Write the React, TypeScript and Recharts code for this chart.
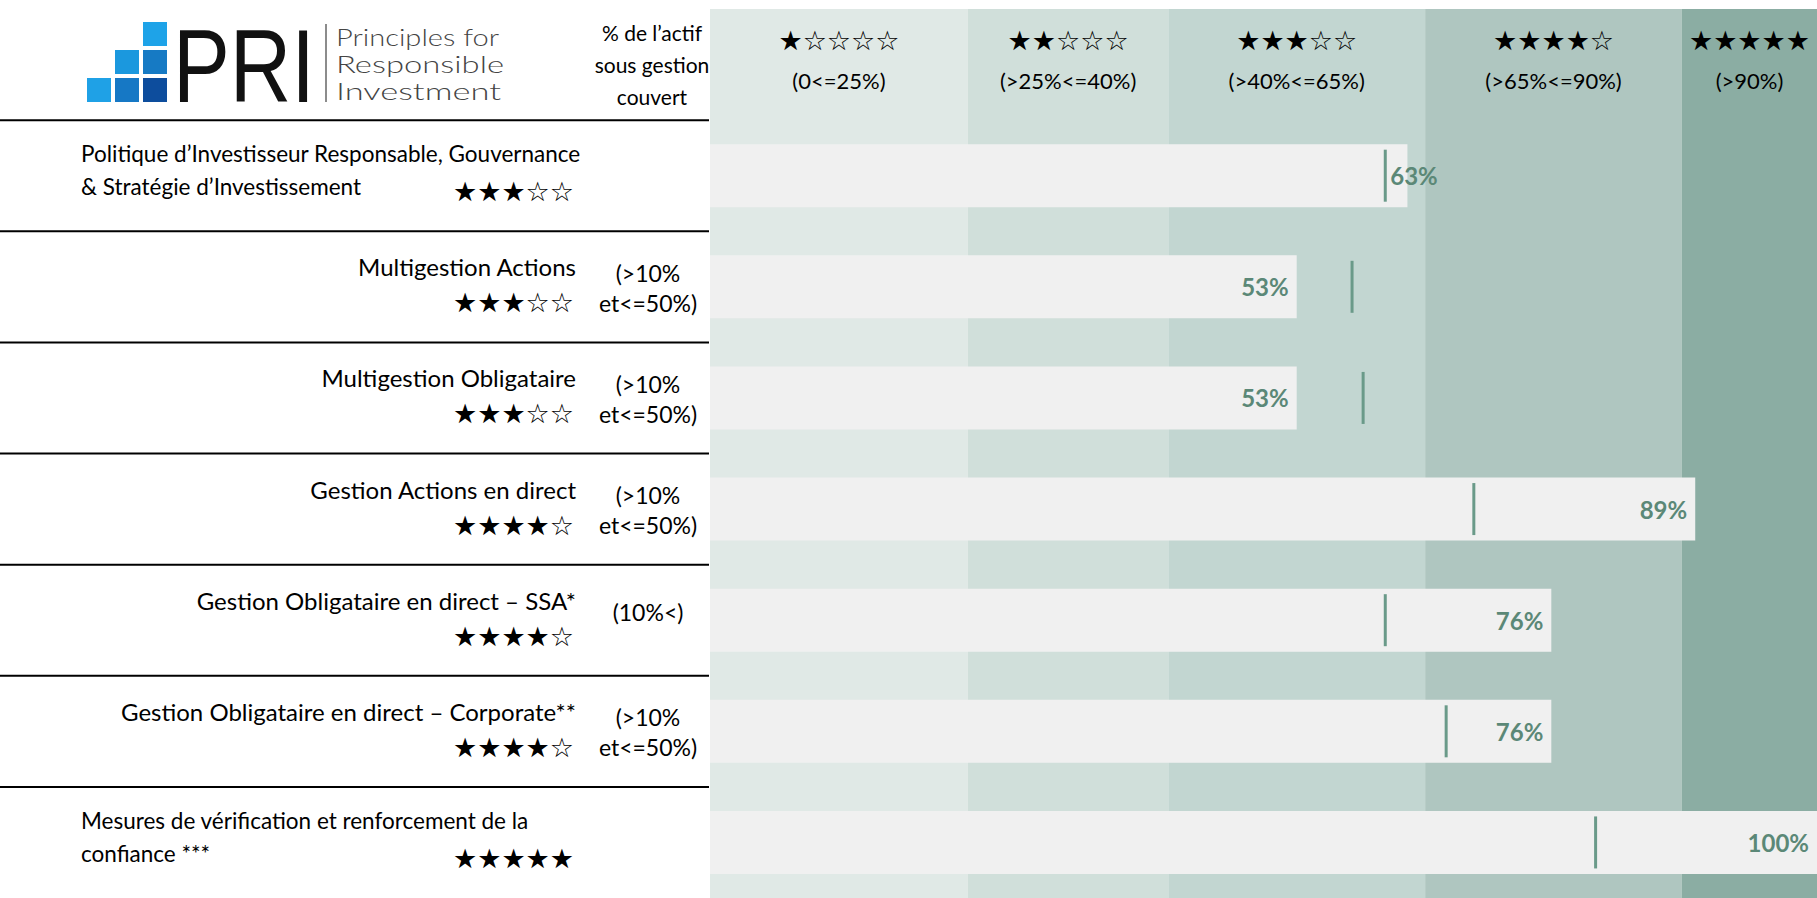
import React from "react";
import {
  ComposedChart,
  Bar,
  Scatter,
  XAxis,
  YAxis,
  ReferenceArea,
  LabelList,
} from "recharts";

// rows of the assessment
const categories = [
  "Politique d’Investisseur Responsable, Gouvernance\n& Stratégie d’Investissement",
  "Multigestion Actions",
  "Multigestion Obligataire",
  "Gestion Actions en direct",
  "Gestion Obligataire en direct – SSA*",
  "Gestion Obligataire en direct – Corporate**",
  "Mesures de vérification et renforcement de la\nconfiance ***",
];
const scores = [63, 53, 53, 89, 76, 76, 100];
const medians = [61, 58, 59, 69, 61, 66.5, 80];
const rowStars = [3, 3, 3, 4, 4, 4, 5];
const shares = [
  "",
  "(>10%\net<=50%)",
  "(>10%\net<=50%)",
  "(>10%\net<=50%)",
  "(10%<)",
  "(>10%\net<=50%)",
  "",
];

// score bands in the background
const bandEdges = [0, 23.3, 41.4, 64.6, 87.8, 100];
const bandStars = [1, 2, 3, 4, 5];
const bandRanges = ["(0<=25%)", "(>25%<=40%)", "(>40%<=65%)", "(>65%<=90%)", "(>90%)"];
const bandColors = ["#E0E9E6", "#D0DFDA", "#C2D6D1", "#AFC6C0", "#8BADA3"];

const W = 1817;
const H = 898;
const TOP = 9;
const AXIS_W = 710;
const ROW_H = (H - TOP) / (categories.length + 1);
const FONT = "Lato, 'Liberation Sans', sans-serif";
const STAR_FONT = "'DejaVu Sans', sans-serif";
const GREEN = "#5B8877";

const starText = (n: number) => "★".repeat(n) + "☆".repeat(5 - n);

const data = [
  { name: "" },
  ...categories.map((name, i) => ({
    name,
    value: scores[i],
    median: medians[i],
  })),
];

const Logo = () => {
  const sq: [number, number, string][] = [
    [2, 0, "#1ea3e8"],
    [1, 1, "#1b98de"],
    [2, 1, "#167ac4"],
    [0, 2, "#1fa1e6"],
    [1, 2, "#1678c5"],
    [2, 2, "#0d4d9d"],
  ];
  return (
    <g>
      {sq.map(([c, r, col], k) => (
        <rect key={k} x={87 + c * 28} y={22 + r * 28} width={24} height={24} fill={col} />
      ))}
      <text
        x={173}
        y={102}
        fontSize={104}
        fontFamily="'Liberation Sans', sans-serif"
        textLength={142}
        lengthAdjust="spacingAndGlyphs"
        fill="#111"
      >
        PRI
      </text>
      <line x1={326} x2={326} y1={24} y2={102} stroke="#666" strokeWidth={1.5} />
      {["Principles for", "Responsible", "Investment"].map((t, k) => (
        <text
          key={t}
          x={336}
          y={36 + k * 27}
          fontSize={24}
          fontFamily={FONT}
          fontWeight={300}
          fill="#444"
          dominantBaseline="central"
          textLength={k === 0 ? 163 : k === 1 ? 168 : 165}
          lengthAdjust="spacingAndGlyphs"
        >
          {t}
        </text>
      ))}
      {["% de l’actif", "sous gestion", "couvert"].map((t, k) => (
        <text
          key={t}
          x={652}
          y={32 + k * 32}
          fontSize={21}
          fontFamily={FONT}
          textAnchor="middle"
          dominantBaseline="central"
          fill="#000"
        >
          {t}
        </text>
      ))}
    </g>
  );
};

const RowTick = (props: any) => {
  const { y, payload } = props;
  const i = categories.indexOf(payload.value);
  if (i < 0) return <Logo />;
  const top = y - ROW_H / 2;
  const lines = categories[i].split("\n");
  const sub = shares[i] ? shares[i].split("\n") : [];
  return (
    <g>
      <line x1={0} x2={709} y1={top} y2={top} stroke="#000" strokeWidth={2} />
      {lines.length > 1 ? (
        lines.map((t, k) => (
          <text
            key={k}
            x={81}
            y={y - 22 + k * 33}
            fontSize={22.5}
            fontFamily={FONT}
            dominantBaseline="central"
            fill="#000"
          >
            {t}
          </text>
        ))
      ) : (
        <text
          x={576}
          y={y - 20}
          fontSize={24}
          fontFamily={FONT}
          textAnchor="end"
          dominantBaseline="central"
          fill="#000"
        >
          {lines[0]}
        </text>
      )}
      <text
        x={574}
        y={y + 16}
        fontSize={27}
        fontFamily={STAR_FONT}
        textAnchor="end"
        dominantBaseline="central"
        fill="#000"
      >
        {starText(rowStars[i])}
      </text>
      {sub.map((t, k) => (
        <text
          key={k}
          x={648}
          y={sub.length > 1 ? y - 14 + k * 30 : y - 8}
          fontSize={23}
          fontFamily={FONT}
          textAnchor="middle"
          dominantBaseline="central"
          fill="#000"
        >
          {t}
        </text>
      ))}
    </g>
  );
};

const BandHeader = ({ viewBox, k }: any) => {
  if (!viewBox) return null;
  const cx = viewBox.x + viewBox.width / 2;
  return (
    <g>
      <text
        x={cx}
        y={viewBox.y + 31}
        fontSize={27}
        fontFamily={STAR_FONT}
        textAnchor="middle"
        dominantBaseline="central"
        fill="#000"
      >
        {starText(bandStars[k])}
      </text>
      <text
        x={cx}
        y={viewBox.y + 71}
        fontSize={22}
        fontFamily={FONT}
        textAnchor="middle"
        dominantBaseline="central"
        fill="#000"
      >
        {bandRanges[k]}
      </text>
    </g>
  );
};

// value label: at the end of the bar, or just right of the marker when the marker sits there
const ValueLabel = (props: any) => {
  const { x, y, width, height, value } = props;
  if (value == null || !width) return null;
  const cy = y + height / 2;
  const r = Math.floor((cy - TOP) / ROW_H) - 1;
  const median = medians[r];
  const end = x + width;
  const mx = median == null ? Infinity : x + (width * median) / value;
  const overlap = mx < end && mx > end - 50;
  return (
    <text
      x={overlap ? mx + 5 : end - 8}
      y={cy}
      textAnchor={overlap ? "start" : "end"}
      dominantBaseline="central"
      fill={GREEN}
      fontSize={24}
      fontWeight={700}
      fontFamily={FONT}
    >
      {`${value}%`}
    </text>
  );
};

const Marker = (props: any) => {
  const { cx, cy } = props;
  if (typeof cx !== "number" || typeof cy !== "number" || isNaN(cx)) return null;
  return <line x1={cx} x2={cx} y1={cy - 26} y2={cy + 26} stroke="#6A9A89" strokeWidth={3} />;
};

export default function App() {
  return (
    <div style={{ position: "absolute", left: 0, top: 0 }}>
      <ComposedChart
        width={W}
        height={H}
        data={data}
        layout="vertical"
        margin={{ top: TOP, right: 0, bottom: 0, left: 0 }}
      >
        {bandColors.map((c, k) => (
          <ReferenceArea
            key={k}
            x1={bandEdges[k]}
            x2={bandEdges[k + 1]}
            fill={c}
            fillOpacity={1}
            stroke="none"
            label={(p: any) => <BandHeader viewBox={p.viewBox} k={k} />}
          />
        ))}
        <XAxis type="number" domain={[0, 100]} hide />
        <YAxis
          type="category"
          dataKey="name"
          width={AXIS_W}
          axisLine={false}
          tickLine={false}
          interval={0}
          tick={(p: any) => <RowTick {...p} />}
        />
        <Bar dataKey="value" barSize={63} fill="#F0F0F0" isAnimationActive={false}>
          <LabelList dataKey="value" content={(p: any) => <ValueLabel {...p} />} />
        </Bar>
        <Scatter dataKey="median" shape={<Marker />} isAnimationActive={false} />
      </ComposedChart>
    </div>
  );
}
